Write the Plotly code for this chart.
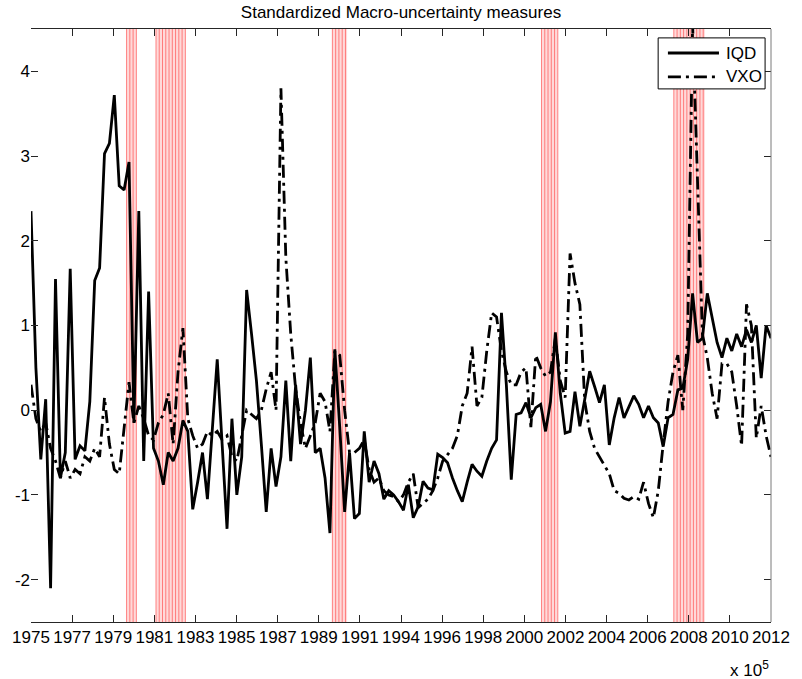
import numpy as np
import pandas as pd
import plotly.graph_objects as go

# Quarterly standardized uncertainty measures, 1975Q1 - 2012Q4
first_quarter = "1975Q1"

iqd = [
    2.35, 0.5, -0.58, 0.13, -2.1, 1.55, -0.8, -0.5, 1.67, -0.58,
    -0.42, -0.48, 0.1, 1.53, 1.68, 3.03, 3.15, 3.72, 2.65, 2.6,
    2.93, -0.15, 2.35, -0.6, 1.4, -0.45, -0.6, -0.88, -0.5, -0.6,
    -0.45, -0.12, -0.25, -1.17, -0.85, -0.5, -1.05, -0.25, 0.6, -0.4,
    -1.4, -0.1, -1.0, -0.55, 1.42, 0.9, 0.35, -0.4, -1.2, -0.45,
    -0.9, -0.55, 0.35, -0.6, 0.3, -0.4, 0.0, 0.62, -0.5, -0.45,
    -0.8, -1.45, 0.72, -0.2, -1.2, -0.5, -1.28, -1.22, -0.25, -0.85,
    -0.6, -0.75, -1.05, -0.95, -1.0, -1.08, -1.18, -0.88, -1.27, -1.14,
    -0.84, -0.92, -0.94, -0.52, -0.56, -0.62, -0.8, -0.95, -1.08, -0.85,
    -0.64, -0.72, -0.78, -0.6, -0.45, -0.35, 1.15, 0.3, -0.82, -0.05,
    -0.03, 0.09, -0.09, 0.03, 0.07, -0.25, 0.1, 0.92, 0.2, -0.27,
    -0.25, 0.22, -0.19, 0.13, 0.46, 0.28, 0.09, 0.3, -0.41, -0.09,
    0.15, -0.09, 0.05, 0.17, 0.07, -0.09, 0.05, -0.09, -0.15, -0.43,
    -0.09, -0.05, 0.24, 0.26, 0.6, 1.38, 0.8, 0.85, 1.38, 1.1,
    0.8, 0.62, 0.85, 0.7, 0.9, 0.75, 0.95, 0.8, 1.0, 0.38,
    1.0, 0.85,
]

vxo = [
    0.3, -0.1, -0.25, -0.15, -0.45, -0.6, -0.8, -0.6, -0.8, -0.7,
    -0.75, -0.55, -0.6, -0.45, -0.55, 0.15, -0.4, -0.7, -0.75, -0.2,
    0.33, -0.15, 0.05, -0.1, -0.3, -0.35, -0.15, -0.05, 0.2, -0.4,
    0.45, 0.97, -0.1, -0.3, -0.45, -0.4, -0.25, -0.3, -0.25, -0.35,
    -0.3, -0.55, -0.6, -0.3, 0.0, -0.05, -0.1, 0.0, 0.25, 0.45,
    0.0, 3.8, 1.8, 0.9, 0.25, -0.15, -0.45, -0.3, -0.15, 0.2,
    0.1, -0.25, 0.7, 0.65, 0.0, -0.5, -0.5, -0.45, -0.35, -0.7,
    -0.85, -0.8, -0.95, -1.0, -1.02, -1.08, -1.0, -0.85, -0.75, -1.15,
    -1.1, -1.05, -0.95, -0.8, -0.6, -0.52, -0.45, -0.3, 0.05, 0.2,
    0.75, 0.05, 0.15, 0.7, 1.15, 1.1, 0.7, 0.45, 0.3, 0.3,
    0.45, 0.5, -0.2, 0.65, 0.5, 0.4, 0.45, 0.85, 0.35, 0.15,
    1.85, 1.5, 1.25, 0.1, -0.25, -0.45, -0.55, -0.65, -0.75, -0.95,
    -0.98, -1.04, -1.06, -1.02, -1.05, -0.85, -1.1, -1.27, -0.95, -0.4,
    0.1, 0.45, 0.65, 0.0, 0.9, 4.55, 2.7, 0.9, 0.62, 0.2,
    -0.1, 0.55, 0.55, 0.45, 0.05, -0.42, 1.25, 1.0, -0.33, 0.05,
    -0.3, -0.55,
]

tick_labels = [
    "1975", "1977", "1979", "1981", "1983", "1985", "1987", "1989", "1991",
    "1994", "1996", "1998", "2000", "2002", "2004", "2006", "2008", "2010", "2012",
]
y_ticks = [-2, -1, 0, 1, 2, 3, 4]
y_tick_labels = ["-2", "-1", "0", "1", "2", "3", "4"]

# NBER recession periods (start month, end month)
recessions = [
    ("1980-01", "1980-07"),
    ("1981-07", "1983-01"),
    ("1990-07", "1991-04"),
    ("2001-03", "2002-01"),
    ("2007-12", "2009-07"),
]

FONT = "Liberation Sans, Arial, Helvetica, sans-serif"
VXO_DASH = "13px,5px,3px,5px"

# mid-quarter decimal-year positions
quarters = pd.period_range(first_quarter, periods=len(iqd), freq="Q")
x = np.array([q.year + (q.quarter - 1) / 4 + 0.125 for q in quarters])


def month_to_year(s):
    p = pd.Period(s, freq="M")
    return p.year + (p.month - 1) / 12


fig = go.Figure()

# recession shading: light band plus red hatching every two months
shapes = []
for start, end in recessions:
    a, b = month_to_year(start), month_to_year(end)
    shapes.append(dict(type="rect", xref="x", yref="paper", x0=a, x1=b, y0=0, y1=1,
                       fillcolor="#ffd9d9", line=dict(width=0), layer="below"))
    for xv in np.arange(a, b + 1e-6, 2 / 12):
        shapes.append(dict(type="line", xref="x", yref="paper", x0=xv, x1=xv, y0=0, y1=1,
                           line=dict(color="rgba(255,60,60,0.6)", width=1), layer="below"))

# right border of the axes box
shapes.append(dict(type="line", xref="paper", yref="paper", x0=1, x1=1, y0=0, y1=1,
                   line=dict(color="#7a7a7a", width=1)))

fig.add_trace(go.Scatter(x=x, y=iqd, mode="lines", name="IQD",
                         line=dict(color="black", width=2.8)))
fig.add_trace(go.Scatter(x=x, y=vxo, mode="lines", name="VXO",
                         line=dict(color="black", width=2.8, dash=VXO_DASH)))

# legend box drawn on top of the data (top-right corner of the axes)
box_x0, box_x1, box_y0, box_y1 = 0.8475, 0.992, 0.899, 0.985
sample_x0, sample_x1, text_x = 0.8607, 0.9297, 0.9365
legend_rows = [("IQD", None, 0.9595), ("VXO", VXO_DASH, 0.9191)]
shapes.append(dict(type="rect", xref="paper", yref="paper",
                   x0=box_x0, x1=box_x1, y0=box_y0, y1=box_y1,
                   fillcolor="white", line=dict(color="black", width=1), layer="above"))
annotations = []
for name, dash, yy in legend_rows:
    line = dict(color="black", width=2.8)
    if dash:
        line["dash"] = dash
    shapes.append(dict(type="line", xref="paper", yref="paper",
                       x0=sample_x0, x1=sample_x1, y0=yy, y1=yy, line=line, layer="above"))
    annotations.append(dict(text=name, xref="paper", yref="paper", x=text_x, y=yy,
                            xanchor="left", yanchor="middle", showarrow=False,
                            font=dict(family=FONT, size=17, color="black")))

annotations.append(dict(text="x 10<sup>5</sup>", xref="paper", yref="paper",
                        x=1.0, y=-0.058, xanchor="right", yanchor="top", showarrow=False,
                        font=dict(family=FONT, size=17, color="black")))

tickvals = np.linspace(x[0], x[-1], len(tick_labels))

fig.update_layout(
    width=802, height=679,
    margin=dict(l=29, r=19, t=29, b=57),
    paper_bgcolor="white", plot_bgcolor="white",
    font=dict(family=FONT, size=17, color="black"),
    title=dict(text="Standardized Macro-uncertainty measures", x=0.5, xanchor="center",
               y=1 - 12 / 679, yanchor="middle", yref="container",
               font=dict(family=FONT, size=17, color="black")),
    shapes=shapes,
    annotations=annotations,
    showlegend=False,
    xaxis=dict(range=[x[0], x[-1]], tickvals=tickvals, ticktext=tick_labels,
               ticks="inside", ticklen=7, tickcolor="#262626", tickwidth=1,
               showline=True, linecolor="#262626", linewidth=1, mirror="ticks",
               showgrid=False, zeroline=False,
               tickfont=dict(family=FONT, size=17, color="black")),
    yaxis=dict(range=[-2.5, 4.5], tickvals=y_ticks, ticktext=y_tick_labels,
               ticks="inside", ticklen=7, tickcolor="#262626", tickwidth=1,
               showline=False, mirror="ticks",
               showgrid=False, zeroline=False,
               tickfont=dict(family=FONT, size=17, color="black")),
)

fig.write_html("out.html")
